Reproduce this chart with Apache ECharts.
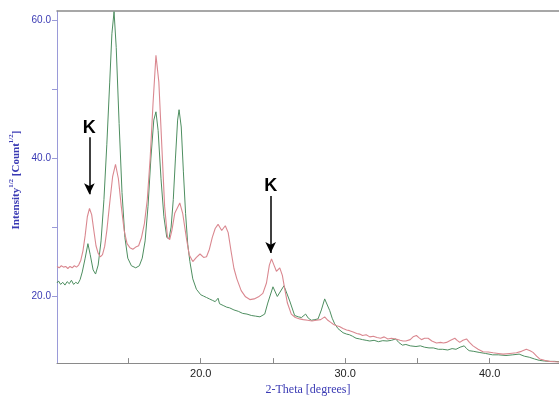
<!DOCTYPE html>
<html>
<head>
<meta charset="utf-8">
<script src="https://cdn.jsdelivr.net/npm/echarts@6/dist/echarts.min.js"></script>
<style>html,body{margin:0;padding:0;background:#fff}#c{width:559px;height:401px}</style>
</head>
<body>
<div id="c"></div>
<script>
// 2-Theta (degrees) and sqrt-intensity readings
var redTheta = [10.05,10.2,10.35,10.5,10.65,10.8,10.95,11.1,11.25,11.4,11.55,11.7,11.85,12.0,12.15,12.3,12.45,12.6,12.75,12.9,13.05,13.2,13.35,13.5,13.7,13.9,14.1,14.3,14.5,14.7,14.9,15.1,15.3,15.5,15.7,15.9,16.1,16.3,16.5,16.7,16.9,17.1,17.3,17.5,17.7,17.85,18.0,18.2,18.55,18.75,19.0,19.2,19.45,19.7,19.95,20.2,20.4,20.6,20.8,21.0,21.2,21.45,21.7,21.9,22.1,22.3,22.5,22.8,23.1,23.4,23.7,24.0,24.3,24.55,24.75,24.9,25.05,25.24,25.47,25.65,25.81,26.0,26.27,26.55,26.85,27.1,27.4,27.7,28.0,28.3,28.58,28.8,29.0,29.2,29.4,29.6,29.85,30.1,30.3,30.55,30.8,31.0,31.2,31.45,31.7,31.95,32.2,32.45,32.7,32.95,33.2,33.5,33.8,34.0,34.2,34.5,34.7,34.93,35.1,35.28,35.5,35.74,36.0,36.32,36.6,36.8,37.01,37.3,37.59,37.75,37.93,38.15,38.4,38.6,38.85,39.2,39.54,39.9,40.24,40.6,40.93,41.4,41.85,42.2,42.54,42.8,43.0,43.25,43.46,43.8,44.15,44.5,44.8];
var redIntensity = [24.3,24.1,24.4,24.2,24.3,24.0,24.3,24.1,24.4,24.2,24.5,25.2,26.6,28.8,31.5,32.7,31.8,29.5,27.3,26.2,25.7,26.0,27.2,29.5,33.5,37.3,39.1,37.0,33.0,29.5,27.6,27.0,26.8,27.1,27.3,28.5,30.5,34.0,40.0,48.0,54.9,51.0,42.0,33.0,28.5,28.2,29.5,32.0,33.5,32.0,28.5,26.0,25.0,25.6,26.1,25.6,25.7,26.8,28.5,29.8,30.4,29.5,30.2,29.2,26.5,24.0,22.5,20.8,19.9,19.5,19.6,19.9,20.4,21.9,24.5,25.4,24.6,23.6,24.1,23.0,21.1,19.0,17.4,16.9,16.7,16.6,16.5,16.4,16.5,16.6,17.0,16.5,16.2,15.9,15.7,15.6,15.3,15.1,15.0,14.8,14.6,14.5,14.3,14.4,14.1,14.2,14.0,13.9,14.1,13.8,13.9,13.8,13.6,13.5,13.5,13.7,14.1,14.3,14.0,13.7,13.9,13.9,13.5,13.2,13.3,13.2,13.3,13.6,13.9,13.6,13.3,13.6,13.8,13.3,12.8,12.3,11.95,11.9,11.8,11.7,11.6,11.7,11.8,12.0,12.3,12.1,11.85,11.3,10.9,10.7,10.55,10.5,10.45];
var greenTheta = [10.05,10.15,10.3,10.45,10.6,10.75,10.9,11.05,11.2,11.35,11.5,11.65,11.8,12.0,12.19,12.35,12.55,12.72,12.9,13.1,13.3,13.5,13.7,13.85,14.0,14.15,14.35,14.55,14.75,14.95,15.2,15.5,15.75,15.95,16.15,16.35,16.55,16.75,16.9,17.05,17.25,17.45,17.65,17.8,17.95,18.1,18.25,18.4,18.5,18.65,18.8,18.95,19.1,19.25,19.45,19.7,20.0,20.2,20.4,20.6,20.8,21.0,21.2,21.3,21.6,21.8,22.0,22.3,22.6,22.9,23.2,23.5,23.8,24.1,24.43,24.64,25.0,25.3,25.76,26.16,26.5,26.75,26.97,27.26,27.45,27.66,27.9,28.12,28.35,28.58,28.93,29.1,29.27,29.5,29.85,30.1,30.3,30.5,30.75,31.0,31.2,31.45,31.7,32.0,32.3,32.6,32.9,33.2,33.5,33.7,33.96,34.2,34.5,34.9,35.2,35.5,35.8,36.1,36.45,36.75,37.1,37.4,37.67,37.95,38.24,38.4,38.58,38.9,39.27,39.7,40.2,40.6,41.13,41.6,42.04,42.4,42.74,43.1,43.43,43.8,44.1,44.5,44.8];
var greenIntensity = [21.9,22.2,21.7,22.0,21.6,22.1,21.8,22.3,21.7,22.0,21.8,22.4,23.5,25.5,27.6,26.0,23.8,23.2,24.5,28.0,34.0,42.0,51.0,58.0,61.2,56.0,45.0,35.0,28.5,25.5,24.4,24.1,24.4,25.5,28.0,33.0,40.0,45.5,46.7,44.0,37.0,31.5,28.5,28.3,30.0,34.0,40.0,45.5,47.0,44.5,38.0,32.0,27.5,25.0,22.5,21.0,20.2,20.0,19.8,19.6,19.4,19.2,19.7,18.9,18.6,18.4,18.3,18.0,17.8,17.5,17.4,17.2,17.1,17.0,17.4,19.0,21.35,19.95,21.5,19.3,17.2,17.0,16.9,17.4,16.8,16.5,16.6,16.7,18.0,19.6,17.9,16.8,16.0,15.3,14.7,14.5,14.4,14.2,13.9,13.8,13.7,13.6,13.5,13.6,13.4,13.55,13.5,13.6,13.8,13.3,12.9,13.0,12.8,12.7,12.8,12.6,12.5,12.5,12.3,12.3,12.2,12.4,12.3,12.6,12.8,12.4,12.1,12.0,11.85,11.7,11.5,11.5,11.4,11.5,11.6,11.3,11.15,10.9,10.7,10.6,10.55,10.55,10.5];
// axis ticks / labels
var xTickValues = [15, 20, 25, 30, 35, 40];
var xLabelValues = [20, 30, 40];
var yTickValues = [20, 30, 40, 50, 60];
var yLabelValues = [20, 40, 60];
// annotations: "K" markers (theta, label height, arrow start, arrow tip)
var kTheta = [12.29, 24.84];
var kTextY = [44.3, 35.9];
var kArrowFrom = [43.0, 34.5];
var kArrowTo = [34.76, 26.24];

function zip(a, b) { return a.map(function (v, i) { return [v, b[i]]; }); }

var chart = echarts.init(document.getElementById('c'), null, { renderer: 'canvas' });
var blue = '#3a3ab4';
chart.setOption({
  animation: false,
  backgroundColor: '#fff',
  grid: { left: 57, top: 11, right: 0, bottom: 23, containLabel: false },
  xAxis: [{
    type: 'value', min: 10.05, max: 44.8,
    axisLine: { show: true, lineStyle: { color: '#8a8a8a', width: 1 } },
    axisTick: { show: true, inside: true, length: 5, customValues: xTickValues, lineStyle: { color: '#8a8a8a' } },
    axisLabel: { show: true, customValues: xLabelValues, margin: 5, color: '#222', fontSize: 11, fontFamily: 'Liberation Sans, Arial, sans-serif', formatter: function (v) { return v.toFixed(1); } },
    splitLine: { show: false },
    name: '2-Theta [degrees]', nameLocation: 'middle', nameGap: 15,
    nameTextStyle: { color: blue, fontSize: 12, fontFamily: 'Liberation Serif, Times New Roman, serif' }
  }, {
    type: 'value', position: 'top', min: 10.05, max: 44.8,
    axisLine: { show: true, lineStyle: { color: '#8a8a8a', width: 1.5 } },
    axisTick: { show: false }, axisLabel: { show: false }, splitLine: { show: false }
  }],
  yAxis: {
    type: 'value', min: 10.3, max: 61.3,
    axisLine: { show: true, lineStyle: { color: '#9a9ad8', width: 1 } },
    axisTick: { show: true, inside: false, length: 5, customValues: yTickValues, lineStyle: { color: '#9a9ad8' } },
    axisLabel: { show: true, customValues: yLabelValues, margin: 6, color: blue, fontSize: 10, fontFamily: 'Liberation Sans, Arial, sans-serif', formatter: function (v) { return v.toFixed(1); } },
    splitLine: { show: false }
  },
  graphic: [{
    type: 'text', x: 15, y: 180, rotation: Math.PI / 2,
    style: {
      text: '{b|Intensity}{s|1/2}{b| [Count}{s|1/2}{b|]}',
      align: 'center', verticalAlign: 'middle',
      rich: {
        b: { fontSize: 11, fontWeight: 'bold', fill: blue, fontFamily: 'Liberation Serif, Times New Roman, serif', lineHeight: 14, verticalAlign: 'bottom' },
        s: { fontSize: 7, fontWeight: 'bold', fill: blue, fontFamily: 'Liberation Serif, Times New Roman, serif', lineHeight: 14, verticalAlign: 'top' }
      }
    }
  }],
  series: [{
    type: 'line', name: 'green', data: zip(greenTheta, greenIntensity),
    showSymbol: false, symbol: 'none', clip: true,
    lineStyle: { color: '#4e8e60', width: 1 }, itemStyle: { color: '#4e8e60' }
  }, {
    type: 'line', name: 'red', data: zip(redTheta, redIntensity),
    showSymbol: false, symbol: 'none', clip: true,
    lineStyle: { color: '#da8890', width: 1.1 }, itemStyle: { color: '#da8890' },
    markLine: {
      silent: true, symbol: ['none', 'arrow'], symbolSize: [8, 11],
      label: { show: false },
      lineStyle: { color: '#000', width: 1.5, type: 'solid', opacity: 1 },
      data: kTheta.map(function (t, i) { return [{ coord: [t, kArrowFrom[i]] }, { coord: [t, kArrowTo[i]] }]; })
    }
  }, {
    type: 'scatter', name: 'K', symbolSize: 1, itemStyle: { color: 'rgba(0,0,0,0)' },
    data: zip(kTheta, kTextY),
    label: { show: true, position: 'inside', formatter: 'K', color: '#000', opacity: 1, fontSize: 18, fontWeight: 'bold', fontFamily: 'Liberation Sans, Arial, sans-serif' },
    emphasis: { disabled: true },
    silent: true
  }]
});
</script>
</body>
</html>
